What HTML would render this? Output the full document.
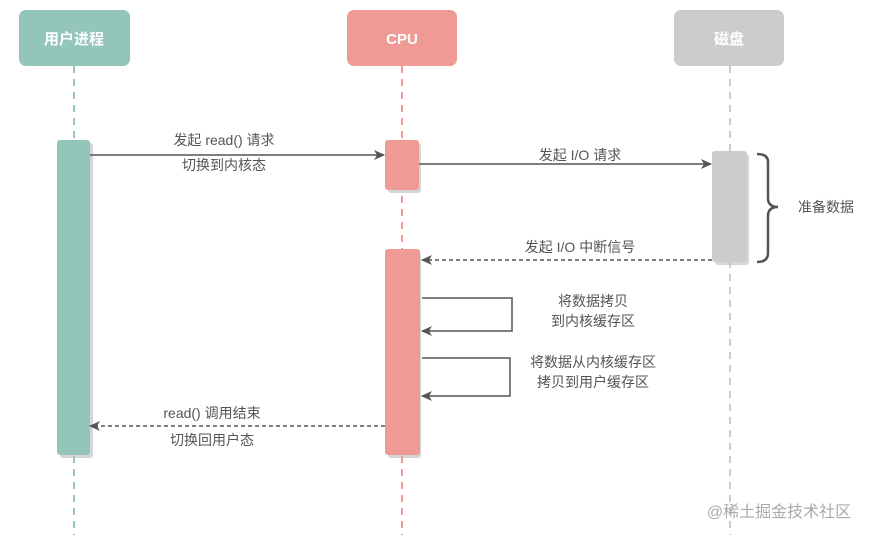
<!DOCTYPE html>
<html><head><meta charset="utf-8"><style>
body{margin:0;background:#fff}
svg{display:block}
text{font-family:"Liberation Sans","Noto Sans CJK SC",sans-serif;font-size:14px;fill:#555}
</style></head><body>
<svg width="875" height="538" viewBox="0 0 875 538" xmlns="http://www.w3.org/2000/svg">
<defs>
<marker id="a" markerWidth="12" markerHeight="12" refX="10" refY="6" orient="auto" markerUnits="userSpaceOnUse">
<path d="M0,1 L11,6 L0,11 L3,6 Z" fill="#555"/></marker>
</defs>
<!-- lifelines -->
<line x1="74" y1="66" x2="74" y2="535" stroke="#93c5bb" stroke-width="2" stroke-dasharray="7,6"/>
<line x1="402" y1="66" x2="402" y2="535" stroke="#ef9a94" stroke-width="2" stroke-dasharray="7,6"/>
<line x1="730" y1="66" x2="730" y2="535" stroke="#cccccc" stroke-width="2" stroke-dasharray="7,6"/>
<!-- headers -->
<rect x="19" y="10" width="111" height="56" rx="7" fill="#93c5bb"/>
<text x="74" y="44" text-anchor="middle" style="fill:#fff;font-weight:bold;font-size:15px">用户进程</text>
<rect x="347" y="10" width="110" height="56" rx="7" fill="#ef9a94"/>
<text x="402" y="44" text-anchor="middle" style="fill:#fff;font-weight:bold;font-size:15px">CPU</text>
<rect x="674" y="10" width="110" height="56" rx="7" fill="#cccccc"/>
<text x="729" y="44" text-anchor="middle" style="fill:#fff;font-weight:bold;font-size:15px">磁盘</text>
<!-- activations -->
<rect x="60" y="143" width="33" height="315" rx="3" fill="#bbb" opacity="0.6"/>
<rect x="57" y="140" width="33" height="315" rx="3" fill="#93c5bb"/>
<rect x="388" y="143" width="33" height="50" rx="3" fill="#bbb" opacity="0.6"/>
<rect x="385" y="140" width="34" height="50" rx="3" fill="#ef9a94"/>
<rect x="388" y="252" width="33" height="206" rx="3" fill="#bbb" opacity="0.6"/>
<rect x="385" y="249" width="35" height="206" rx="3" fill="#ef9a94"/>
<rect x="715" y="154" width="34" height="111" rx="3" fill="#bbb" opacity="0.6"/>
<rect x="712" y="151" width="35" height="111" rx="3" fill="#cccccc"/>
<!-- arrows -->
<line x1="90" y1="155" x2="384" y2="155" stroke="#555" stroke-width="1.5" marker-end="url(#a)"/>
<line x1="419" y1="164" x2="711" y2="164" stroke="#555" stroke-width="1.5" marker-end="url(#a)"/>
<line x1="712" y1="260" x2="422" y2="260" stroke="#555" stroke-width="1.5" stroke-dasharray="4,3" marker-end="url(#a)"/>
<polyline points="422,298 512,298 512,331 422,331" fill="none" stroke="#555" stroke-width="1.5" marker-end="url(#a)"/>
<polyline points="422,358 510,358 510,396 422,396" fill="none" stroke="#555" stroke-width="1.5" marker-end="url(#a)"/>
<line x1="385" y1="426" x2="90" y2="426" stroke="#555" stroke-width="1.5" stroke-dasharray="4,3" marker-end="url(#a)"/>
<!-- brace -->
<path d="M757,154 Q768,154 768,162 L768,198 Q768,207 778,207 Q768,207 768,216 L768,253 Q768,262 757,262" fill="none" stroke="#555" stroke-width="2.5"/>
<!-- labels -->
<text x="224" y="145" text-anchor="middle">发起 read() 请求</text>
<text x="224" y="170" text-anchor="middle">切换到内核态</text>
<text x="580" y="160" text-anchor="middle">发起 I/O 请求</text>
<text x="826" y="212" text-anchor="middle">准备数据</text>
<text x="580" y="252" text-anchor="middle">发起 I/O 中断信号</text>
<text x="593" y="306" text-anchor="middle">将数据拷贝</text>
<text x="593" y="326" text-anchor="middle">到内核缓存区</text>
<text x="593" y="367" text-anchor="middle">将数据从内核缓存区</text>
<text x="593" y="387" text-anchor="middle">拷贝到用户缓存区</text>
<text x="212" y="418" text-anchor="middle">read() 调用结束</text>
<text x="212" y="445" text-anchor="middle">切换回用户态</text>
<text x="779" y="517" text-anchor="middle" style="fill:#aaa;font-size:16px">@稀土掘金技术社区</text>
</svg>
</body></html>
